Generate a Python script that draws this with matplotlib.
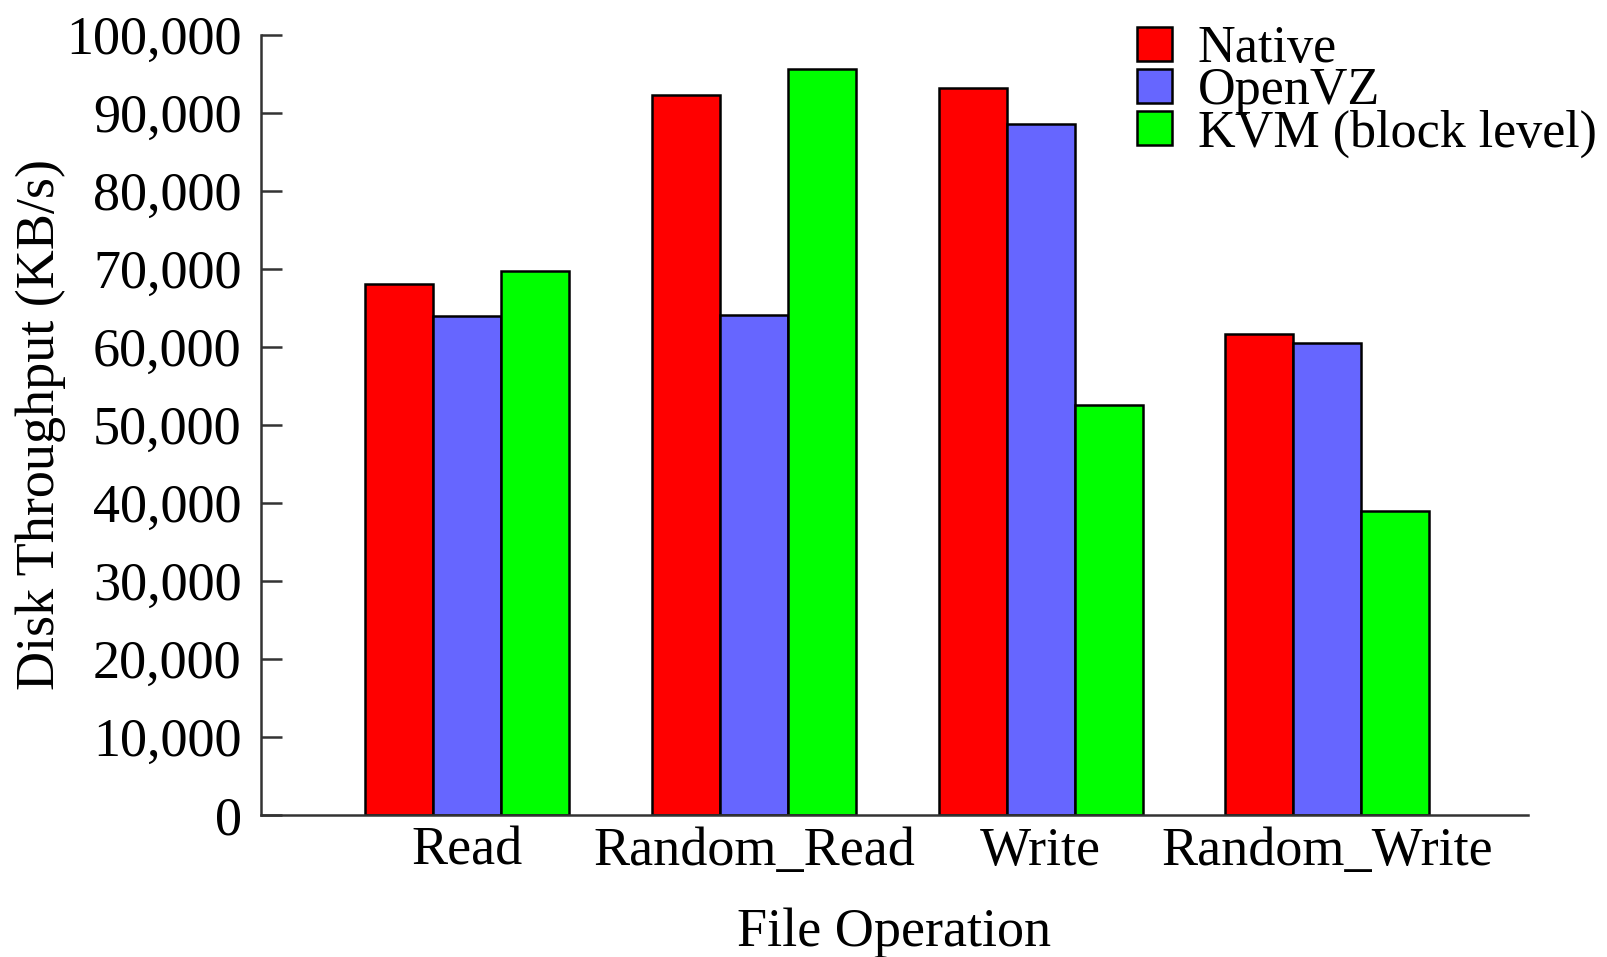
import matplotlib
matplotlib.use("Agg")
import matplotlib.pyplot as plt
from matplotlib.ticker import FuncFormatter, MultipleLocator
import numpy as np

# Disk throughput per file operation (KB/s)
operations = ["Read", "Random_Read", "Write", "Random_Write"]
series_names = ["Native", "OpenVZ", "KVM (block level)"]
native = [68000, 92300, 93200, 61700]
openvz = [64000, 64100, 88600, 60450]
kvm_block = [69700, 95600, 52500, 39000]
series_colors = ["#ff0000", "#6666ff", "#00ff00"]

plt.rcParams["font.family"] = ["Liberation Serif", "DejaVu Serif"]
FS = 39
LEG_FS = 37.5

fig = plt.figure(figsize=(16.08, 9.57), dpi=100)
ax = fig.add_axes([0.1623, 0.1484, 0.9502 - 0.1623, 0.9637 - 0.1484])

x = np.arange(len(operations))
width = 0.2375
handles = []
for i, (vals, name, col) in enumerate(zip([native, openvz, kvm_block], series_names, series_colors)):
    b = ax.bar(x + (i - 1) * width, vals, width=width, color=col,
               edgecolor="black", linewidth=1.8, label=name, zorder=2)
    handles.append(b)

ax.set_xlim(-0.72, 3.70)
ax.set_ylim(0, 100000)
ax.yaxis.set_major_locator(MultipleLocator(10000))
ax.yaxis.set_major_formatter(FuncFormatter(lambda v, p: f"{int(v):,}"))

ax.set_xticks(x)
ax.set_xticklabels(operations)

for s in ["top", "right"]:
    ax.spines[s].set_visible(False)
for s in ["left", "bottom"]:
    ax.spines[s].set_linewidth(1.8)
    ax.spines[s].set_color("#333333")

ax.tick_params(axis="y", direction="in", length=15, width=1.8, color="#333333",
               labelsize=FS, pad=14)
ax.tick_params(axis="x", length=0, labelsize=FS, pad=8)

ax.set_xlabel("File Operation", fontsize=FS, labelpad=22)
ax.set_ylabel("Disk Throughput (KB/s)", fontsize=FS, labelpad=0)

leg = fig.legend(handles=handles, loc="upper left",
                 bbox_to_anchor=(1137 / 1608, 1 - 25 / 957),
                 fontsize=LEG_FS, frameon=False, handlelength=0.67, handleheight=0.62,
                 handletextpad=0.5, labelspacing=-0.11, borderpad=0.0,
                 borderaxespad=0.0)

fig.savefig("out.png", dpi=100)
